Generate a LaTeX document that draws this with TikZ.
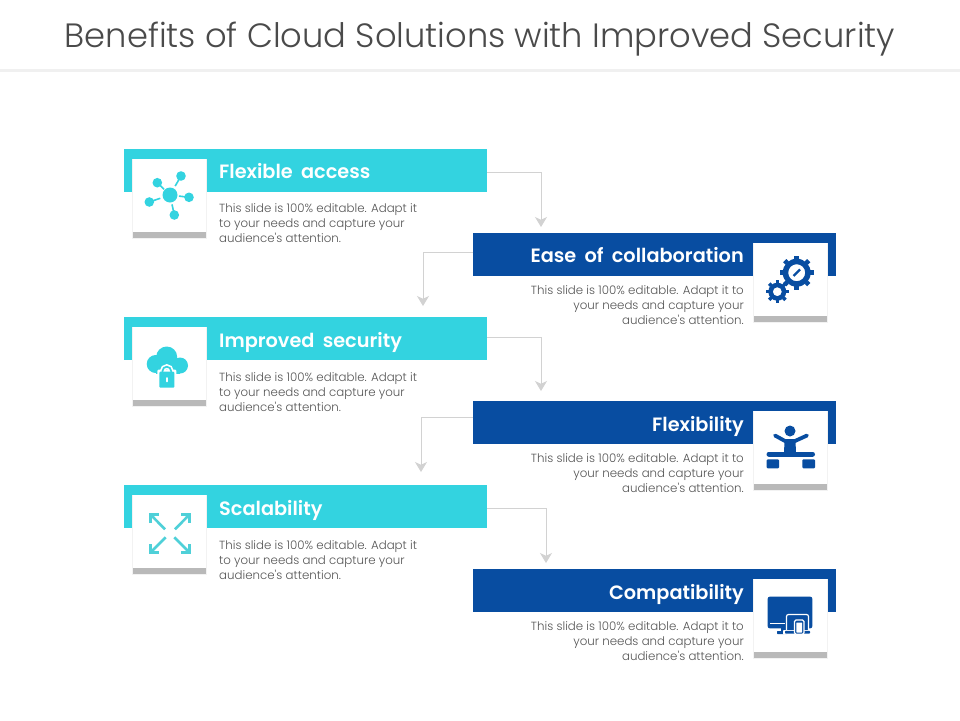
\documentclass[tikz,border=0pt]{standalone}
\usepackage{fontspec}
\setmainfont{Poppins}
\newfontfamily\lightfont{Poppins Light}
\newfontfamily\headfont[WordSpace=1.8]{Poppins SemiBold}
\usetikzlibrary{arrows.meta,calc}
\definecolor{cyanbar}{HTML}{33D3E0}
\definecolor{bluebar}{HTML}{084DA1}
\definecolor{linegray}{HTML}{D2D2D2}
\definecolor{cardshadow}{HTML}{B9B9B9}
\definecolor{txt}{HTML}{555555}
\definecolor{titlecol}{HTML}{4A4A4A}
\definecolor{arrowcyan}{HTML}{4FD0D8}
\tikzset{
  x=1pt,y=-1pt,
  bar/.style={minimum width=363pt,minimum height=43pt,inner sep=0pt,outer sep=0pt},
  cyanb/.style={bar,fill=cyanbar},
  blueb/.style={bar,fill=bluebar},
  head/.style={text=white,inner sep=0pt,font=\headfont\fontsize{19.3}{22}\selectfont},
  body/.style={text=txt,inner sep=0pt,font=\lightfont\fontsize{11.8}{15}\selectfont},
  conn/.style={draw=linegray,line width=1pt,-{Stealth[inset=2.8pt,length=10pt,width=12pt,color=linegray]}},
  card/.style={fill=white,minimum width=73pt,minimum height=73pt,inner sep=0pt,outer sep=0pt},
  cardbase/.style={fill=cardshadow,minimum width=73pt,minimum height=6pt,inner sep=0pt,outer sep=0pt},
}
\begin{document}
\begin{tikzpicture}
\useasboundingbox (0,0) rectangle (960,720);
\fill[white] (0,0) rectangle (960,720);
\fill[black!6] (0,69) rectangle (960,72);
\node[text=titlecol,inner sep=0pt,anchor=base,font=\lightfont\fontsize{33.7}{38}\selectfont] (title) at (480,47) {Benefits of Cloud Solutions with Improved Security};

% bars
\node[cyanb,anchor=north west] (b1) at (124,149) {};
\node[blueb,anchor=north west] (b2) at (473,233) {};
\node[cyanb,anchor=north west] (b3) at (124,317) {};
\node[blueb,anchor=north west] (b4) at (473,401) {};
\node[cyanb,anchor=north west] (b5) at (124,485) {};
\node[blueb,anchor=north west] (b6) at (473,569) {};

% cards
\foreach \n/\cx/\cy in {c1/133/159,c2/754/243,c3/133/327,c4/754/411,c5/133/495,c6/754/579}{
  \fill[black!5] (\cx-0.7,\cy-0.5) rectangle (\cx+73.7,\cy+79.7);
  \node[cardbase,anchor=north west] at (\cx,\cy+73) {};
  \node[card,anchor=north west] (\n) at (\cx,\cy) {};
}

% headings
\node[head,anchor=base west] (h1) at (219,178.5) {Flexible access};
\node[head,anchor=base east] (h2) at (744,262.5) {Ease of collaboration};
\node[head,anchor=base west] (h3) at (219,347.5) {Improved security};
\node[head,anchor=base east] (h4) at (744,431.5) {Flexibility};
\node[head,anchor=base west] (h5) at (219,515.5) {Scalability};
\node[head,anchor=base east] (h6) at (744,599.5) {Compatibility};

% body text
\foreach \n/\y in {t1/223,t3/392,t5/560}{
  \node[body,anchor=west,align=left] (\n) at (219,\y) {This slide is 100\% editable. Adapt it\\to your needs and capture your\\audience's attention.};
}
\foreach \n/\y in {t2/305,t4/473,t6/641}{
  \node[body,anchor=east,align=right] (\n) at (744,\y) {This slide is 100\% editable. Adapt it to\\your needs and capture your\\audience's attention.};
}

% connectors
\coordinate (e1) at (541,227);
\coordinate (e2) at (423,306);
\coordinate (e3) at (541,391);
\coordinate (e4) at (421,472);
\coordinate (e5) at (546,563);
\draw[conn] ([yshift=-1.5pt]b1.east) -| (e1);
\draw[conn] ([yshift=2.5pt]b2.west) -| (e2);
\draw[conn] ([yshift=1.5pt]b3.east) -| (e3);
\draw[conn] ([yshift=5.5pt]b4.west) -| (e4);
\draw[conn] ([yshift=-1.5pt]b5.east) -| (e5);

% icon 1: network
\begin{scope}[cyanbar]
  \fill (170,195) circle (7.5);
  \foreach \sx/\sy in {181/176,157.3/182.7,189/197.3,174.3/215,149.3/202}{
    \fill (\sx,\sy) circle (4.8);
    \draw[line width=1.6pt] (\sx,\sy) -- ($(170,195)!0.47!(\sx,\sy)$);
  }
\end{scope}

% icon 2: gears
\begin{scope}[bluebar]
  \foreach \gx/\gy/\ro/\ri/\rh/\tw in {796.7/272.7/17/13.5/8.5/4.6,777.3/291.7/11.5/8.5/4.5/3.4}{
    \foreach \a in {0,45,...,315}{
      \draw[line width=\tw pt] ($(\gx,\gy)+(\a:\ri)$) -- ($(\gx,\gy)+(\a:\ro)$);
    }
    \fill[even odd rule] (\gx,\gy) circle (\ri+0.5) (\gx,\gy) circle (\rh);
  }
  \draw[line width=2.2pt] (793.5,276) -- (800,269.5);
  \draw[white,line width=1.6pt] (775,294) -- (779.6,289.4);
\end{scope}

% icon 3: cloud with lock
\begin{scope}
  \fill[cyanbar] (155.7,364) circle (9);
  \fill[cyanbar] (166.7,357) circle (10.5);
  \fill[cyanbar] (180,365.5) circle (8);
  \fill[cyanbar] (155.7,362) rectangle (180,373.5);
  \draw[white,line width=5pt] (162.5,373) -- (162.5,371) arc[start angle=180,end angle=360,radius=4.3] -- (171.1,373);
  \fill[white,rounded corners=1pt] (157.3,369.7) rectangle (176.3,389.5);
  \draw[cyanbar,line width=1.7pt] (162.5,373) -- (162.5,371) arc[start angle=180,end angle=360,radius=4.3] -- (171.1,373);
  \fill[cyanbar,rounded corners=1pt] (159.3,371.7) rectangle (174.3,387.7);
  \draw[white,line width=1.8pt,line cap=round] (166.8,378) -- (166.8,381.5);
\end{scope}

% icon 4: figure on blocks
\begin{scope}[bluebar]
  \fill (790,431) circle (5.5);
  \draw[line width=3.8pt,line cap=round,line join=round] (775,435.5) -- (785,441) -- (795,441) -- (807,435.5);
  \fill (784.5,440) -- (795.5,440) -- (796,454) -- (784,454) -- cycle;
  \draw[line width=5pt,line cap=round] (769,454) -- (812.5,454);
  \fill[rounded corners=1pt] (766.7,459.3) rectangle (779,468.3);
  \fill[rounded corners=1pt] (802.3,459.3) rectangle (815,468.3);
\end{scope}

% icon 5: expanding arrows
\begin{scope}[arrowcyan,line width=2.6pt]
  \draw (165,529.3) -- (150.5,514.5);
  \draw (150.5,523) -- (150.5,514.5) -- (159,514.5);
  \draw (175,529.3) -- (189.5,514.5);
  \draw (181,514.5) -- (189.5,514.5) -- (189.5,523);
  \draw (165.7,537.3) -- (150.5,552.5);
  \draw (150.5,544) -- (150.5,552.5) -- (159,552.5);
  \draw (174.3,537.3) -- (189.5,552.5);
  \draw (189.5,544) -- (189.5,552.5) -- (181,552.5);
\end{scope}

% icon 6: devices
\begin{scope}
  \fill[bluebar,rounded corners=2pt] (767.7,596.7) rectangle (812.3,628.3);
  \fill[bluebar] (781,628) rectangle (786,632);
  \fill[bluebar,rounded corners=0.7pt] (777,631) rectangle (788,634);
  \draw[white,line width=1pt] (770,623.5) -- (785,623.5);
  \draw[white,line width=1.2pt,rounded corners=2pt,fill=bluebar] (786.5,630) -- (786.5,614.5) -- (808.5,614.5) -- (808.5,630);
  \fill[white,rounded corners=0.8pt] (783,630) rectangle (812,634.5);
  \fill[bluebar,rounded corners=0.8pt] (785,630.8) rectangle (810,633.7);
  \draw[white,line width=1.2pt,rounded corners=1.5pt,fill=bluebar] (794.5,634.3) rectangle (804,620);
  \fill[white,rounded corners=0.5pt] (796.3,622.5) rectangle (802.2,632.5);
\end{scope}
\end{tikzpicture}
\end{document}
